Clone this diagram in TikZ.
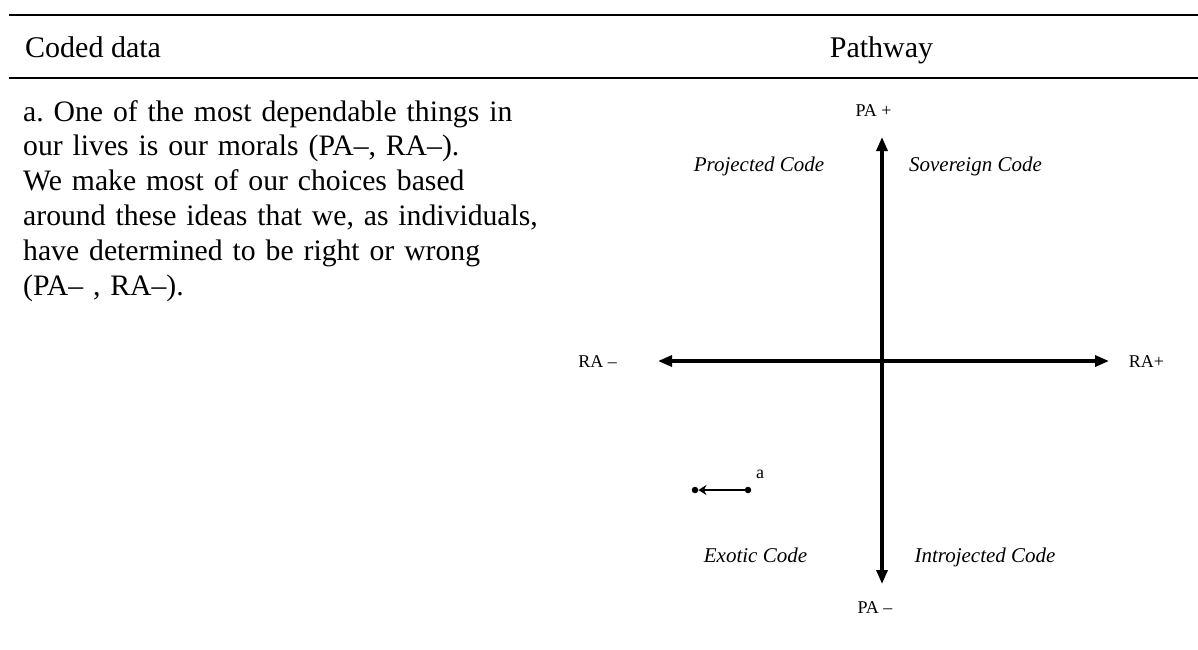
\documentclass[tikz,border=0pt]{standalone}
\usepackage{fontspec}
\setmainfont{Liberation Serif}
\usetikzlibrary{arrows.meta}
\frenchspacing
\tikzset{
  rule/.style={line width=1.8pt},
  axis/.style={line width=3.3pt, {Triangle[width=11pt,length=14pt]}-{Triangle[width=11pt,length=14pt]}},
  hdr/.style={inner sep=0pt, anchor=base, font=\fontsize{30}{34.8}\selectfont},
  body/.style={inner sep=0pt, anchor=base west, text width=560pt, align=left, font=\fontsize{29.7}{34.8}\selectfont},
  axlabel/.style={inner sep=0pt, anchor=base, font=\fontsize{18}{21}\selectfont},
  quad/.style={inner sep=0pt, anchor=base, font=\fontsize{21}{25}\selectfont\itshape},
  dot/.style={circle, fill=black, inner sep=0pt, minimum size=6.5pt},
  move/.style={line width=2pt, -{Stealth[width=10pt,length=8pt]}}
}
\begin{document}
\begin{tikzpicture}[x=1pt,y=-1pt]
\useasboundingbox (0,0) rectangle (1198,649);
% table rules
\draw[rule] (9,15) -- (1198,15);
\draw[rule] (9,78) -- (1198,78);
% header
\node[hdr, anchor=base west] (hcoded) at (25,57) {Coded data};
\node[hdr] (hpath) at (881.5,57) {Pathway};
% body text
\node[body] (text) at (23,121) {a. One of the most dependable things in\\our lives is our morals (PA–, RA–).\\We make most of our choices based\\around these ideas that we, as individuals,\\have determined to be right or wrong\\(PA– , RA–).};
% axes
\coordinate (o) at (882,361);
\coordinate (ytop) at (882,137);
\coordinate (ybot) at (882,584);
\coordinate (xleft) at (658,361);
\coordinate (xright) at (1109,361);
\draw[axis] (ybot) -- (ytop);
\draw[axis] (xleft) -- (xright);
% axis labels
\node[axlabel] (paplus) at (873.5,116) {PA +};
\node[axlabel] (paminus) at (875,613) {PA –};
\node[axlabel] (raminus) at (597.5,367) {RA –};
\node[axlabel] (raplus) at (1146.5,367) {RA+};
% quadrant labels
\node[quad] (proj) at (759,171) {Projected Code};
\node[quad] (sov) at (975.5,171) {Sovereign Code};
\node[quad] (exo) at (755.5,562) {Exotic Code};
\node[quad] (intro) at (985,562) {Introjected Code};
% movement a
\node[dot] (astart) at (748,490) {};
\node[dot] (aend) at (695,490) {};
\draw[move] (astart) -- (aend);
\node[axlabel] (alab) at (760,478) {a};
\end{tikzpicture}
\end{document}
